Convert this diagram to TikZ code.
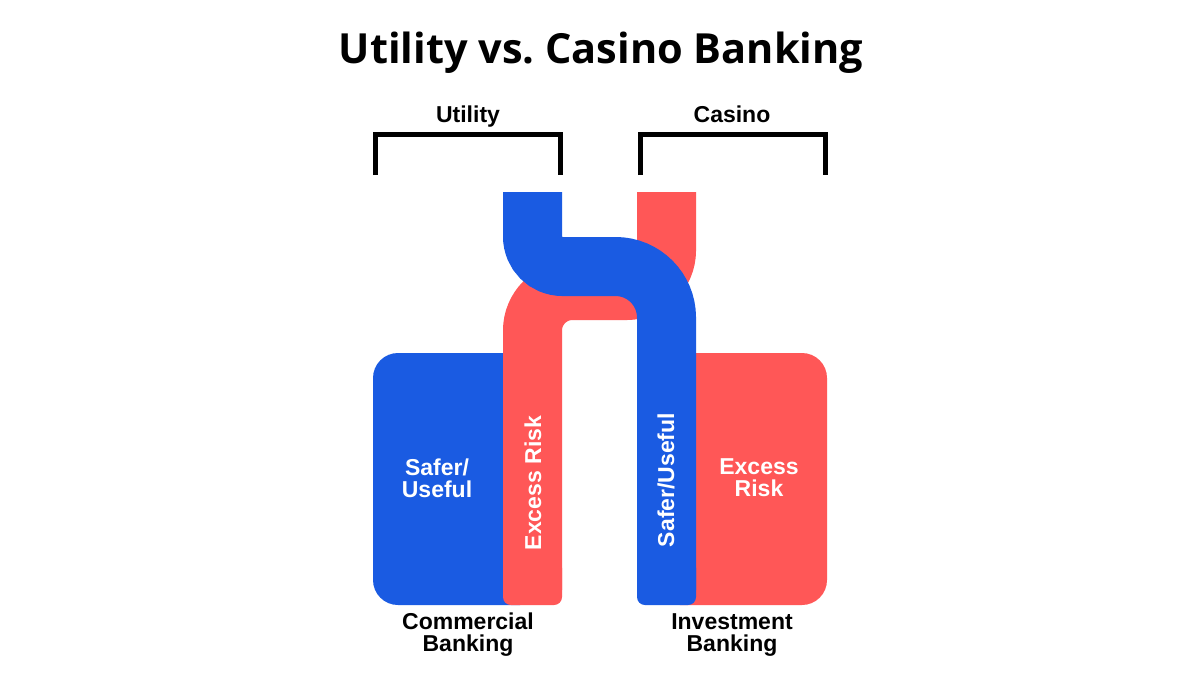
\documentclass[tikz,border=0pt]{standalone}
\usepackage{fontspec}
\setmainfont{Liberation Sans}
\newfontfamily\titlefont{Open Sans}
\definecolor{bblue}{HTML}{1A5BE2}
\definecolor{rred}{HTML}{FF5757}
\begin{document}
\begin{tikzpicture}[x=1pt,y=-1pt,
  bracketline/.style={line width=5pt, line join=miter, black},
  label/.style={font=\fontsize{23}{22}\selectfont\bfseries, inner sep=0pt, align=center},
  inlabel/.style={label, text=white},
  flow/.style={line width=59pt, line cap=butt}]
\useasboundingbox[fill=white] (0,0) rectangle (1200,675);
% title
\node[anchor=base, inner sep=0pt, font=\titlefont\fontsize{41.5}{41.5}\selectfont\bfseries] (title) at (601,63) {\frenchspacing Utility vs.\ Casino Banking};
% brackets
\coordinate (ua) at (375,175); \coordinate (ub) at (375,134);
\coordinate (uc) at (560,134); \coordinate (ud) at (560,175);
\draw[bracketline] (ua) -- (ub) -- (uc) -- (ud);
\coordinate (ca) at (640,175); \coordinate (cb) at (640,134);
\coordinate (cc) at (825,134); \coordinate (cd) at (825,175);
\draw[bracketline] (ca) -- (cb) -- (cc) -- (cd);
\node[label, anchor=base] (utl) at (468,122) {Utility};
\node[label, anchor=base] (cas) at (732,122) {Casino};
% boxes
\fill[bblue, rounded corners=25pt] (373,353) rectangle (545,605);
\fill[rred, rounded corners=25pt] (655,353) rectangle (827,605);
% red flow
\draw[flow, rred] (666.5,192) -- (666.5,250.5)
  .. controls (666.5,272.6) and (648.6,290.5) .. (626.5,290.5)
  -- (572.5,290.5)
  .. controls (550.4,290.5) and (532.5,308.4) .. (532.5,330.5)
  -- (532.5,590);
\fill[rred, rounded corners=8pt] (503,560) rectangle (562,605);
% blue flow
\draw[flow, bblue] (532.5,192) -- (532.5,236.5)
  .. controls (532.5,253.07) and (545.93,266.5) .. (562.5,266.5)
  -- (615.5,266.5)
  .. controls (643.67,266.5) and (666.5,289.33) .. (666.5,317.5)
  -- (666.5,590);
\fill[bblue, rounded corners=8pt] (637,560) rectangle (696,605);
% inner labels
\node[inlabel] (lsafe) at (437,478) {Safer/\\Useful};
\node[inlabel] (rrisk) at (759,478) {Excess\\Risk};
\node[inlabel, rotate=90] (srisk) at (533,483) {Excess Risk};
\node[inlabel, rotate=90] (ssafe) at (666,480) {Safer/Useful};
% bottom labels
\node[label] (comm) at (468,635) {Commercial\\Banking};
\node[label] (inv) at (732,635) {Investment\\Banking};
\end{tikzpicture}
\end{document}
